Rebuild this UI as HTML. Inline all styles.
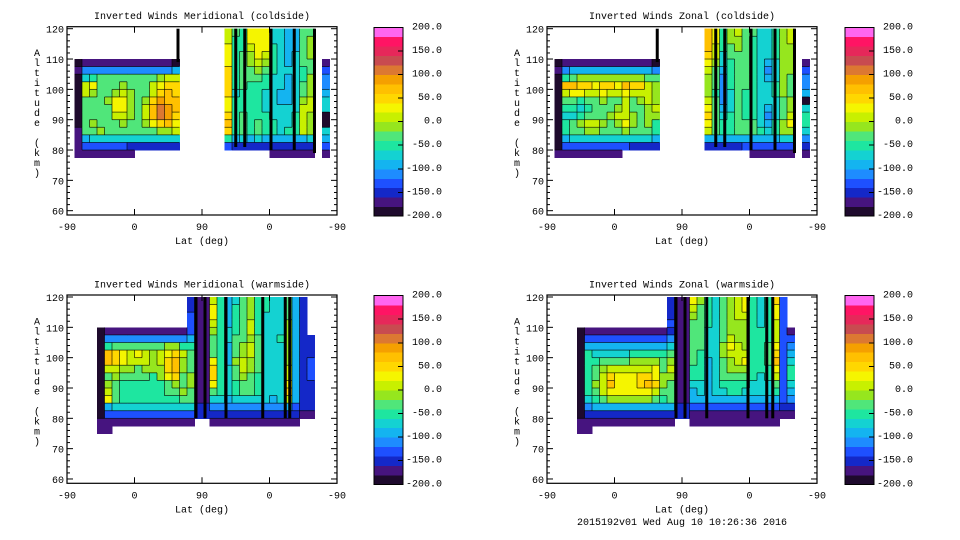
<!DOCTYPE html>
<html>
<head>
<meta charset="utf-8">
<style>
html,body{margin:0;padding:0;background:#fff;}
svg{display:block;}
text{font-family:"Liberation Mono","DejaVu Sans Mono",monospace;font-size:10px;fill:#000;}
</style>
</head>
<body>
<svg id="fig" width="960" height="540" viewBox="0 0 960 540" xmlns="http://www.w3.org/2000/svg"></svg>
<script>
// ---- data ----
const levelEdges = [-200,-180,-160,-140,-120,-100,-80,-60,-40,-20,0,20,40,60,80,100,120,140,160,180,200];
const binColors = ["#1e0a2d","#46147f","#1428c8","#1e50ff","#1e8cff","#14b4f0","#14d2d2","#1ee6a0","#50e67a","#96e61e","#c8f000","#f5f500","#ffd700","#ffc000","#f5a000","#dc7832","#c84b50","#e6285a","#ff1464","#ff66f0"];
const colorbarTicks = [200,150,100,50,0,-50,-100,-150,-200];
const xTickLabels = ["-90","0","90","0","-90"];
const xTickOrbit = [0,90,180,270,360];
const yTicks = [60,70,80,90,100,110,120];
// grid rows: row r spans altitude 120-2.5r .. 120-2.5(r+1); columns 10 orbit-deg each
// code letter A..T = bin 0..19 (value = -190 + 20*bin)
const tlGrid = [
 [[21,"KIHLLLGGFFII"]],
 [[21,"KHHLLLGGFFIJ"]],
 [[21,"LHHKLLHGFFIJ"]],
 [[21,"LHIJLKHGFGIJ"]],
 [[1,"ABBBBBBBBBBBBA"],[21,"LHIJKJHGFGII"],[34,"B"]],
 [[1,"BEEEEEEEEEEEEF"],[21,"MHIIJIHGGGHI"],[34,"D"]],
 [[1,"AGHIIIIIIIIJKK"],[21,"MHIIIHGGFGHJ"],[34,"E"]],
 [[1,"AKLIIIJIIIKLMM"],[21,"MHIHHHGGFGIJ"],[34,"E"]],
 [[1,"AKJIIJKJIIKMNM"],[21,"MGHHHGGFFGIJ"],[34,"F"]],
 [[1,"AIIIJLLJIJMONN"],[21,"LHHHHGGFFGJK"],[34,"G"]],
 [[1,"AIIIILLJIKNPON"],[21,"LHHHHGGGGGKK"],[34,"G"]],
 [[1,"AIIIIKKJIKNPOM"],[21,"MHIHHHGGGHKJ"],[34,"A"]],
 [[1,"AIJIIIJIIJLMNL"],[21,"NHIHIHHGGHKJ"],[34,"A"]],
 [[1,"BIIJIIIIIIIJJK"],[21,"MHIHIHHGHHKJ"],[34,"G"]],
 [[1,"BFGGGGGGGGGGGG"],[21,"HFGFGFFFFFFG"],[34,"F"]],
 [[1,"BDDDDDDCCCCCCC"],[21,"DCCCCCCCCCCC"],[34,"D"]],
 [[1,"BBBBBBBB"],[27,"BBBBBB"],[34,"B"]]
];
const trGrid = [
 [[21,"NLHJKIIGGHJK"]],
 [[21,"NLHJJIHGGHJK"]],
 [[21,"NKHIJIHGGHJJ"]],
 [[21,"MKGIIIHGGHJJ"]],
 [[1,"ABBBBBBBBBBBBA"],[21,"LJGHIIHGFGJJ"],[34,"B"]],
 [[1,"BEFFFFFFFFFFFE"],[21,"KIFHIIHGEGJJ"],[34,"D"]],
 [[1,"AHIJJJJJJJJJII"],[21,"JIEHIIHGFGJI"],[34,"E"]],
 [[1,"ANNMMLMMLNMMKJ"],[21,"JIEHIIHGGHJI"],[34,"E"]],
 [[1,"AKLLKKLKKLKKKJ"],[21,"JHEGIHHGGHJI"],[34,"F"]],
 [[1,"AIIHIIJIIKIJKJ"],[21,"KIEGIHHGGGIJ"],[34,"A"]],
 [[1,"AHHGHIIIJKIIJK"],[21,"LIFGIHHGFGIJ"],[34,"G"]],
 [[1,"AGGHIIIJKKJIJJ"],[21,"MIGHIHHGEGIK"],[34,"H"]],
 [[1,"AHIJKKJIJLJIJH"],[21,"LIHHIIIGFHJL"],[34,"H"]],
 [[1,"AHIIJJIIIJIIIH"],[21,"KIHHIIIHGHJJ"],[34,"G"]],
 [[1,"AFGGGGGGGGGGGF"],[21,"FFFFFFFFFFGG"],[34,"E"]],
 [[1,"ADDDDDDDDDCCCC"],[21,"CCCCCDDDDDDD"],[34,"C"]],
 [[1,"BBBBBBBBB"],[27,"BBBBBB"],[34,"B"]]
];
const blGrid = [
 [[16,"CB"],[18,"BKHFGIJHHGGIFC"]],
 [[16,"CB"],[18,"BLHFHIJHHGGIFC"]],
 [[16,"DB"],[18,"BLHFHIJHGGGIFC"]],
 [[16,"DB"],[18,"BKHFHIKHGGGJFC"]],
 [[4,"ABBBBBBBBBBBDB"],[18,"BJHGHIKHGGGJFC"]],
 [[4,"AEEEEEEEEEEEFB"],[18,"BIHGIIJIGGHJFC"],[32,"C"]],
 [[4,"AHIIIIIIIJJHHB"],[18,"BIHFIJKIGGGJFC"],[32,"C"]],
 [[4,"ANMLKLKJKLMKIB"],[18,"BIHFIJKIGGGJFC"],[32,"C"]],
 [[4,"ANMLKKKJKMNJIB"],[18,"BLHFJKJIGGGJFC"],[32,"D"]],
 [[4,"AKKJJIJJJMNJIB"],[18,"BMHGIKJIGGGKFC"],[32,"D"]],
 [[4,"AIJIIIIHJLMIJB"],[18,"BMHGIJIHGGGKFC"],[32,"D"]],
 [[4,"AJIHHHHHHIJIJB"],[18,"BLHGHIIHGGGLFC"],[32,"C"]],
 [[4,"AKIHHHHHHIIJIB"],[18,"BIHGHIIHGGGMFC"],[32,"C"]],
 [[4,"ALIHHHHHHHHIIB"],[18,"BGGFGGGGGFGKFC"],[32,"C"]],
 [[4,"AFGGGGGGGGGGGC"],[18,"CEEEEEEEEEEFDC"],[32,"C"]],
 [[4,"ADDDDDDDDDDDDC"],[18,"CCCCCCCCCCCCCB"],[32,"B"]],
 [[4,"BBBBBBBBBBBBB"],[19,"BBBBBBBBBBBB"]],
 [[4,"BB"]]
];
const brGrid = [
 [[16,"CB"],[18,"BLJHGIJKLHGHMD"]],
 [[16,"CB"],[18,"BKIHGIJKLHGHLD"]],
 [[16,"CB"],[18,"BJIHGIJKKHGHLD"]],
 [[16,"DB"],[18,"BIIHGIJJJHGHKD"]],
 [[4,"ABBBBBBBBBBBCB"],[18,"BIIGGIJJJHHHKD"],[32,"B"]],
 [[4,"ADDDDDDDDDDDEB"],[18,"BIIGGIKJJHHHKD"],[32,"D"]],
 [[4,"AFFFFFFFFFFFGB"],[18,"BIIGGJLKJHHILD"],[32,"E"]],
 [[4,"AHGGGGGHHHHHIB"],[18,"BIHGGJKKKHHIMD"],[32,"F"]],
 [[4,"AHHIIIIJJJJIJB"],[18,"BIHFGIJKLHHIND"],[32,"G"]],
 [[4,"AHIJKKKKKKLIKB"],[18,"BHHFGIJJJHHHLD"],[32,"H"]],
 [[4,"AHIKMLLLMMLJJB"],[18,"BHHFGIIIIHGHKD"],[32,"H"]],
 [[4,"AHJKNLLLMNMJIB"],[18,"BGGFGHHHHGGGID"],[32,"G"]],
 [[4,"AHIKLLLLLLKIIB"],[18,"BFGFGGHHGGGGHD"],[32,"F"]],
 [[4,"AGHIJJJJJJIHIB"],[18,"BFFFFFFFFFFFFD"],[32,"E"]],
 [[4,"AEFFFFFFFFFFFC"],[18,"CDDDDDDDDDDDDC"],[32,"C"]],
 [[4,"ACCCCCCCCCCCCC"],[18,"CBBBBBBBBBBBBB"],[32,"B"]],
 [[4,"BBBBBBBBBBBBB"],[19,"BBBBBBBBBBBB"]],
 [[4,"BB"]]
];
// thick black contour spikes: [orbit-deg, alt top, alt bottom]
const tlSpikes = [[148,120,109],[225,120,81],[237,120,81],[272,120,80],[303,120,80],[330,120,79]];
const trSpikes = [[147,120,109],[225,120,81],[237,120,81],[272,120,80],[304,120,80],[330,120,79]];
const blSpikes = [[172,120,80],[184,120,80],[212,120,80],[261,120,80],[291,120,80],[297,120,80]];
const brSpikes = [[172,120,80],[184,120,80],[213,120,80],[268,120,80],[293,120,80],[301,120,80]];
const panelTitles = ["Inverted Winds Meridional (coldside)","Inverted Winds Zonal (coldside)","Inverted Winds Meridional (warmside)","Inverted Winds Zonal (warmside)"];

// ---- drawing ----
const NS = "http://www.w3.org/2000/svg";
const svg = document.getElementById("fig");
function mk(tag, attrs, parent){
  const e = document.createElementNS(NS, tag);
  for (const k in attrs) e.setAttribute(k, attrs[k]);
  (parent||svg).appendChild(e);
  return e;
}
function codeToValue(ch){ return -190 + 20*(ch.charCodeAt(0)-65); }
function valueColor(v){
  let i = Math.floor((v - levelEdges[0]) / 20);
  i = Math.max(0, Math.min(binColors.length-1, i));
  return binColors[i];
}

function drawPanel(px, py, grid, spikes, title, nameBase){
  const g = mk("g", {});
  
  
  const xs = o => px + o*0.75;
  const ys = a => py + 28.7 + (120-a)*3.033;
  const cells = mk("g", {"shape-rendering":"crispEdges"}, g);
  
  
  const lookup = {};
  grid.forEach((row, r) => row.forEach(seg => {
    for (let k=0;k<seg[1].length;k++) lookup[r+","+(seg[0]+k)] = seg[1][k];
  }));
  grid.forEach((row, r) => {
    const aTop = 120 - 2.5*r, aBot = aTop - 2.5;
    row.forEach(seg => {
      const c0 = seg[0], codes = seg[1];
      for (let k=0; k<codes.length; k++){
        const c = c0 + k;
        const v = codeToValue(codes[k]);
        const x1 = xs(c*10), x2 = xs(c*10+10);
        const y1 = ys(aTop), y2 = ys(aBot);
        const rc = mk("rect", {x:x1.toFixed(2), y:y1.toFixed(2), width:(x2-x1+0.6).toFixed(2), height:(y2-y1+0.6).toFixed(2), fill:valueColor(v)}, cells);
        
        
      }
    });
  });
  // contour lines between differing neighbouring cells
  const lines = mk("g", {stroke:"#000", "stroke-width":0.8, "stroke-opacity":0.75}, g);
  
  
  Object.keys(lookup).forEach(key => {
    const [r, c] = key.split(",").map(Number);
    const code = lookup[key];
    const right = lookup[r+","+(c+1)];
    const below = lookup[(r+1)+","+c];
    const aTop = 120 - 2.5*r, aBot = aTop - 2.5;
    if (right && right !== code){
      const x = xs(c*10+10);
      mk("line", {x1:x, x2:x, y1:ys(aTop), y2:ys(aBot)}, lines);
    }
    if (below && below !== code){
      const y = ys(aBot);
      mk("line", {x1:xs(c*10), x2:xs(c*10+10), y1:y, y2:y}, lines);
    }
  });
  spikes.forEach(s => {
    const sp = mk("rect", {x:(xs(s[0])-1.5).toFixed(2), y:ys(s[1]).toFixed(2), width:3, height:(ys(s[2])-ys(s[1])).toFixed(2), fill:"#000"}, g);
    
    
  });
  const fTop = py + 26.7, fBot = py + 215, fL = px, fR = px + 270;
  const fr = mk("rect", {x:fL, y:fTop, width:270, height:fBot-fTop, fill:"none", stroke:"#000", "stroke-width":1.2}, g);
  
  
  xTickOrbit.forEach((o,i) => {
    const x = xs(o);
    mk("line", {x1:x, x2:x, y1:fBot, y2:fBot-6, stroke:"#000"}, g);
    mk("line", {x1:x, x2:x, y1:fTop, y2:fTop+6, stroke:"#000"}, g);
    const t = mk("text", {x:x, y:py+230, "text-anchor":"middle"}, g);
    t.textContent = xTickLabels[i];
    
    
  });
  for (let a=60; a<=120; a+=2){
    const y = ys(a);
    const major = (a % 10 === 0);
    const len = major ? 6 : 3;
    mk("line", {x1:fL, x2:fL+len, y1:y, y2:y, stroke:"#000"}, g);
    mk("line", {x1:fR, x2:fR-len, y1:y, y2:y, stroke:"#000"}, g);
  }
  yTicks.forEach(a => {
    const t = mk("text", {x:px-3, y:ys(a)+4, "text-anchor":"end"}, g);
    t.textContent = String(a);
    
    
  });
  const tt = mk("text", {x:px+135, y:py+19, "text-anchor":"middle"}, g);
  tt.textContent = title;
  
  
  const xt = mk("text", {x:px+135, y:py+244, "text-anchor":"middle"}, g);
  xt.textContent = "Lat (deg)";
  
  
  const yt = mk("text", {x:px-30, y:py+56, "text-anchor":"middle"}, g);
  
  
  const label = "Altitude (km)";
  for (let i=0;i<label.length;i++){
    const ts = document.createElementNS(NS, "tspan");
    ts.setAttribute("x", px-30);
    ts.setAttribute("y", py + 56 + i*10);
    ts.textContent = label[i];
    yt.appendChild(ts);
  }
}

function drawColorbar(cx, cy, nameBase){
  const g = mk("g", {"shape-rendering":"crispEdges"});
  
  
  const h = 188.7, w = 29;
  const yv = v => cy + (200 - v)/400*h;
  for (let i=0;i<binColors.length;i++){
    const y1 = yv(levelEdges[i+1]), y2 = yv(levelEdges[i]);
    const b = mk("rect", {x:cx, y:y1.toFixed(2), width:w, height:(y2-y1+0.5).toFixed(2), fill:binColors[i]}, g);
    
    
  }
  mk("rect", {x:cx, y:cy, width:w, height:h, fill:"none", stroke:"#000", "stroke-width":1}, g);
  colorbarTicks.forEach(v => {
    const y = yv(v);
    mk("line", {x1:cx+w, x2:cx+w-5, y1:y, y2:y, stroke:"#000"}, g);
    const t = mk("text", {x:cx+68, y:y+2, "text-anchor":"end"}, g);
    t.textContent = v.toFixed(1);
    
    
  });
}

drawPanel(67, 0, tlGrid, tlSpikes, panelTitles[0], "panel-meridional-coldside");
drawPanel(547, 0, trGrid, trSpikes, panelTitles[1], "panel-zonal-coldside");
drawPanel(67, 268.3, blGrid, blSpikes, panelTitles[2], "panel-meridional-warmside");
drawPanel(547, 268.3, brGrid, brSpikes, panelTitles[3], "panel-zonal-warmside");
drawColorbar(374, 27.3, "colorbar-meridional-coldside");
drawColorbar(845, 27.3, "colorbar-zonal-coldside");
drawColorbar(374, 295.6, "colorbar-meridional-warmside");
drawColorbar(845, 295.6, "colorbar-zonal-warmside");

const foot = mk("text", {x:682, y:525, "text-anchor":"middle"});
foot.textContent = "2015192v01 Wed Aug 10 10:26:36 2016";


</script>
</body>
</html>
